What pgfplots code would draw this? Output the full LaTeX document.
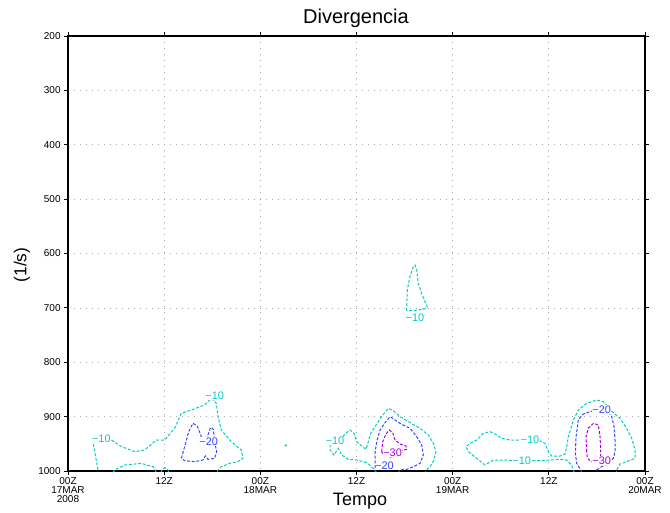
\documentclass[border=0pt]{standalone}
\usepackage{fontspec}
\setmainfont{Liberation Sans}
\usepackage{pgfplots}
\pgfplotsset{compat=1.18}
\definecolor{gcyan}{RGB}{0,205,200}
\definecolor{gblue}{RGB}{50,70,255}
\definecolor{gpurp}{RGB}{170,0,215}
\begin{document}
\begin{tikzpicture}
\begin{axis}[
    scale only axis,
    width=432.75pt, height=326.25pt,
    xmin=0, xmax=72, ymin=200, ymax=1000,
    y dir=reverse,
    xtick={0,12,24,36,48,60,72},
    xticklabels={{00Z\\17MAR\\2008},12Z,{00Z\\18MAR},12Z,{00Z\\19MAR},12Z,{00Z\\20MAR}},
    ytick={200,300,...,1000},
    tick align=outside, major tick length=3pt,
    tick style={black, line width=0.6pt},
    xticklabel style={align=center, font=\fontsize{7.5}{7}\selectfont, yshift=2pt},
    yticklabel style={font=\fontsize{7.5}{8}\selectfont, xshift=1pt},
    /pgf/number format/assume math mode=true,
    /pgf/number format/1000 sep={},
    grid=major, grid style={gray!70, line width=0.5pt, dash pattern=on 0.8pt off 3.7pt},
    axis line style={line width=1pt},
    every axis plot/.append style={line width=0.75pt, dash pattern=on 2.2pt off 1.3pt},
    clip=true,
]
% cyan -10, first event
\addplot[gcyan] coordinates {
(3.74,998.1)(3.12,946)(3.33,936.8)(4.5,939)(5.41,943)(6.66,955)(8.32,964.4)(9.57,961.4)
(11.02,943)(12.06,943)(13.31,921.5)(14.14,893.9)(15.39,887.8)(17.05,878.6)(17.89,866.3)
(18.51,875.5)(18.72,900)(19.13,924.6)(20.38,946)(21.63,961.4)(21.84,976.7)(21.21,982.8)
(20.17,985.9)(19.13,992)(18.72,998.1)(18.6,1003)};
\addplot[gcyan] coordinates {(5.6,1003)(5.82,998)(7.07,989)(9.15,986)(10.6,992)(10.9,998)(11,1003)};
\addplot[gcyan] coordinates {(11.6,1003)(11.73,998)(12.06,994)(12.48,998)(12.6,1003)};
% blue -20, first event
\addplot[gblue] coordinates {
(14.14,976.7)(14.56,955.2)(15.06,927.6)(15.6,912.3)(16.14,917.2)(16.56,933.8)(16.85,949)
(17.39,936.8)(17.8,919.6)(18.14,923.3)(18.3,946)(18.55,964.4)(18.3,976.7)(17.47,978.5)
(17.14,972.4)(16.85,979.8)(15.81,982.8)(14.56,981)(14.14,976.7)};
% cyan dot
\addplot[gcyan, only marks, mark=*, mark size=0.6pt] coordinates {(27.2,953.4)};
% cyan -10, second event
\addplot[gcyan] coordinates {
(38.5,1003)(38.31,998.1)(37.27,984.6)(36.02,979.8)(34.98,978.5)(34.15,970.6)(33.74,958.3)
(33.19,970.6)(32.7,961.4)(32.7,950.3)(33.2,945)(33.94,943)(34.57,931.9)(35.19,924.6)
(35.69,930.7)(36.02,946)(36.65,954)(37.19,960.1)(37.48,946)(37.77,930.7)(38.44,915.4)
(39.14,900)(39.98,884.7)(40.6,889)(41.43,900)(42.68,911.1)(43.93,921.5)(44.97,933.8)
(45.59,949.1)(45.92,964.4)(45.67,979.8)(45.18,992)(44.76,998.1)(44.6,1003)};
% blue -20, second event
\addplot[gblue] coordinates {
(38.31,1003)(38.31,996.9)(38.31,967.5)(38.52,946)(38.94,924.6)(39.56,911.1)(40.18,900)
(40.81,906.2)(41.43,912.3)(42.68,921.5)(43.51,936.8)(44.14,952.2)(44.34,970.6)(43.93,985.9)
(43.1,992)(42.26,996.9)(41.43,998.1)(41.2,1003)};
% purple -30, second event
\addplot[gpurp] coordinates {
(39.14,964.4)(39.27,946)(39.68,931.9)(40.1,924.6)(40.52,929.5)(40.81,943)(41.43,950.3)
(42.18,954)(42.26,960.1)(41.64,962.6)(41.1,964.4)(40.81,970.6)(40.5,975)(39.7,972)
(39.35,968.7)(39.14,964.4)};
% cyan -10, upper tongue
\addplot[gcyan] coordinates {
(42.26,705.1)(42.34,667.1)(42.67,642.5)(43.09,624.2)(43.3,621.1)(43.51,630.3)(43.71,654.8)
(44.13,673.2)(44.55,688.5)(44.84,699)(44.34,702.6)(43.3,704.5)(42.26,705.1)};
% cyan -10, third event
\addplot[gcyan] coordinates {
(63.2,1003)(63.06,998.1)(62.85,988.9)(62.23,979.8)(61.4,978.5)(60.15,979.8)(58.9,981)
(57.65,981)(56.61,981.6)(55.78,981)(54.74,979.8)(53.08,979.8)(52.04,988.9)(51,976.7)
(49.96,964.4)(49.67,955.2)(50.17,949.1)(51,943)(51.83,930.7)(52.66,927.6)(53.49,933.8)
(54.12,939.9)(55.16,943)(55.99,943)(57.65,943)(58.69,943)(59.52,949.1)(59.94,964.4)
(60.36,972.4)(61.4,972.4)(62.02,968.7)(62.23,955.2)(62.44,936.8)(63.06,906.2)(63.68,887.8)
(64.73,875.5)(65.97,869.4)(66.8,872.4)(67.64,887.8)(68.88,903.1)(69.72,921.5)(70.34,939.9)
(70.76,961.4)(70.76,976.7)(69.72,982.8)(68.88,987.1)(68.47,998.1)(68.4,1003)};
% blue -20, third event
\addplot[gblue] coordinates {
(64.1,1003)(63.98,998.1)(63.48,985.9)(63.31,967.5)(63.4,936.8)(63.68,906.2)(64.23,895.7)
(65.14,890.8)(66.6,886.5)(67.43,890.8)(67.85,900)(68.14,918.4)(68.26,943)(68.26,964.4)
(68.05,976.7)(67.43,985.9)(66.6,992)(65.97,998.1)(65.9,1003)};
% purple -30, third event
\addplot[gpurp] coordinates {
(64.73,964.4)(64.64,936.8)(64.93,921.5)(65.56,912.3)(66.18,915.4)(66.39,936.8)(66.47,961.4)
(66.47,974.8)(66.6,981)(65.35,982.8)(64.81,976.7)(64.73,964.4)};
\end{axis}
\begin{scope}[every node/.style={font=\fontsize{8.2}{9}\selectfont, fill=white, inner sep=0.3pt}]
\pgfmathsetmacro{\sx}{432.75/72}
\pgfmathsetmacro{\sy}{326.25/800}
\node[text=gcyan] at (4.16*\sx pt, {(1000-940)*\sy pt}) {−10};
\node[text=gcyan] at (18.3*\sx pt, {(1000-862)*\sy pt}) {−10};
\node[text=gblue] at (17.55*\sx pt, {(1000-946)*\sy pt}) {−20};
\node[text=gcyan] at (33.32*\sx pt, {(1000-944.8)*\sy pt}) {−10};
\node[text=gblue, fill=none, inner sep=0pt, anchor=south] at (39.5*\sx pt, 0.6pt) {−20};
\node[text=gpurp, inner sep=0pt] at (40.5*\sx pt, {(1000-967)*\sy pt}) {−30};
\node[text=gcyan] at (43.3*\sx pt, {(1000-718)*\sy pt}) {−10};
\node[text=gcyan] at (56.61*\sx pt, {(1000-981.6)*\sy pt}) {−10};
\node[text=gcyan] at (57.65*\sx pt, {(1000-943)*\sy pt}) {−10};
\node[text=gblue] at (66.6*\sx pt, {(1000-886.5)*\sy pt}) {−20};
\node[text=gpurp] at (66.6*\sx pt, {(1000-981)*\sy pt}) {−30};
\end{scope}
\node[font=\fontsize{15}{16}\selectfont] at (216pt, 339.75pt) {Divergencia};
\node[font=\fontsize{13.5}{14}\selectfont] at (219pt, -22.5pt) {Tempo};
\node[font=\fontsize{13}{14}\selectfont, rotate=90] at (-34.5pt, 154.5pt) {(1/s)};
\pgfresetboundingbox
\useasboundingbox (-51pt,-30.75pt) rectangle (451.5pt,353.25pt);
\end{tikzpicture}
\end{document}
